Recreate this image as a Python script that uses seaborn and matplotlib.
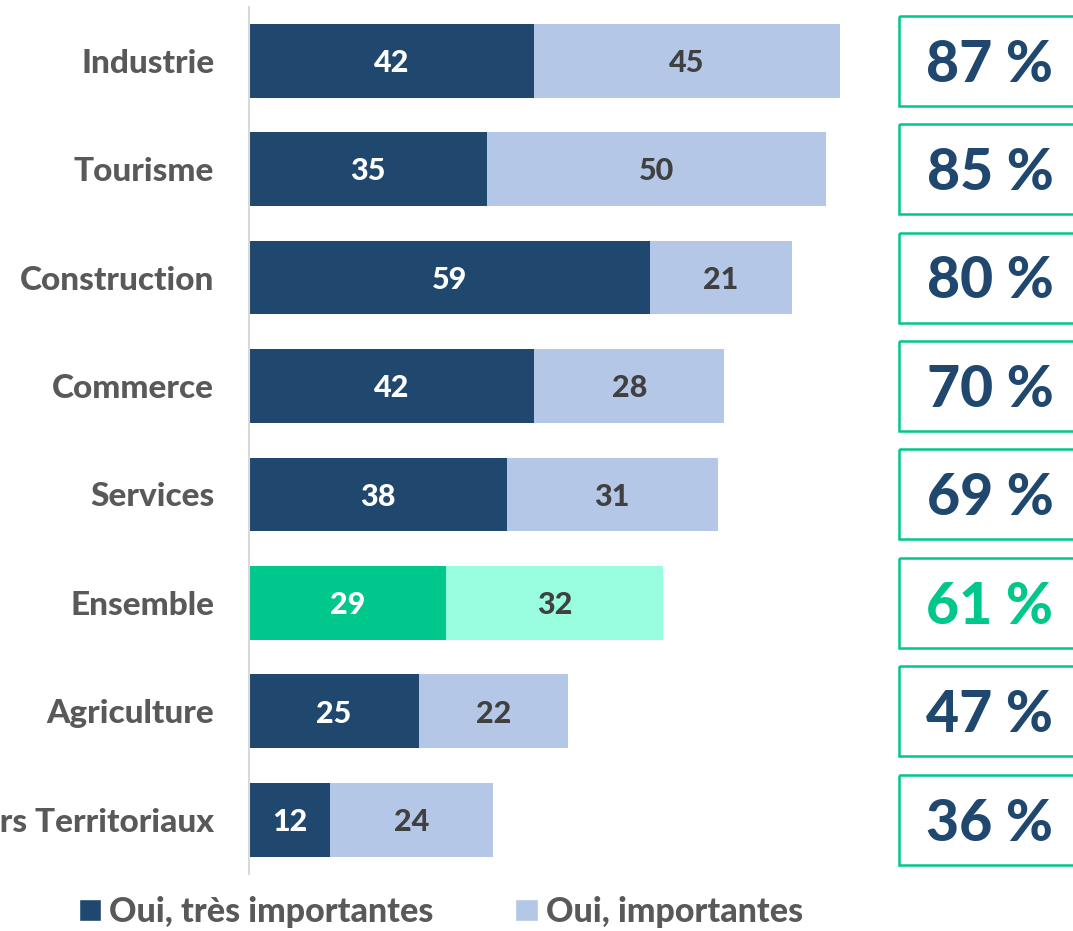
import pandas as pd
import seaborn as sns
import matplotlib.pyplot as plt
from matplotlib.patches import Rectangle, Patch
from matplotlib.transforms import blended_transform_factory

categories = ["Industrie", "Tourisme", "Construction", "Commerce", "Services",
              "Ensemble", "Agriculture", "Acteurs Territoriaux"]
tres_importantes = [42, 35, 59, 42, 38, 29, 25, 12]
importantes = [45, 50, 21, 28, 31, 32, 22, 24]
totals = [87, 85, 80, 70, 69, 61, 47, 36]
highlight = "Ensemble"

NAVY = "#20476E"
LIGHT = "#B4C7E7"
GREEN = "#00C78C"
MINT = "#99FDE0"
GREY = "#595959"
TXT_DARK = "#404040"
W = 900

sns.set_style("white")
plt.rcParams["font.family"] = ["Lato", "DejaVu Sans"]
plt.rcParams["font.weight"] = W

df = pd.DataFrame({"cat": categories, "a": tres_importantes, "b": importantes})
df["total"] = df["a"] + df["b"]

fig = plt.figure(figsize=(10.73, 9.31), dpi=100)
ax = fig.add_axes([249 / 1073, 1 - 874 / 931, 1 - 249 / 1073, (874 - 6.5) / 931])

pal_light = {c: (MINT if c == highlight else LIGHT) for c in categories}
pal_dark = {c: (GREEN if c == highlight else NAVY) for c in categories}

sns.barplot(data=df, y="cat", x="total", hue="cat", palette=pal_light, order=categories,
            hue_order=categories, width=0.68, legend=False, saturation=1, ax=ax)
sns.barplot(data=df, y="cat", x="a", hue="cat", palette=pal_dark, order=categories,
            hue_order=categories, width=0.68, legend=False, saturation=1, ax=ax)
for p in ax.patches:
    p.set_linewidth(0)

# segment labels
for i, cat in enumerate(categories):
    a = tres_importantes[i]
    b = importantes[i]
    ax.text(a / 2, i + 0.02, str(a), ha="center", va="center", color="white",
            fontsize=22, fontweight=W)
    ax.text(a + b / 2, i + 0.02, str(b), ha="center", va="center", color=TXT_DARK,
            fontsize=22, fontweight=W)

ax.set_xlim(0, 824 / 6.79)
ax.set_ylim(7.5, -0.5)
ax.set_xlabel("")
ax.set_ylabel("")
ax.set_xticks([])
ax.tick_params(axis="y", length=0, pad=25)
ax.set_yticks(range(len(categories)))
ax.set_yticklabels(categories, fontsize=24, fontweight=W, color=GREY)
for s in ["top", "right", "bottom"]:
    ax.spines[s].set_visible(False)
ax.spines["left"].set_color("#D9D9D9")
ax.spines["left"].set_linewidth(1.5)

# total boxes on the right
trans = blended_transform_factory(ax.transAxes, ax.transData)
box_x = (899 - 249) / 824
txt_x = (990 - 249) / 824
for i, (cat, t) in enumerate(zip(categories, totals)):
    ax.add_patch(Rectangle((box_x, i - 0.415), 0.4, 0.83, transform=trans,
                           fill=False, edgecolor=GREEN, linewidth=1.8, clip_on=False))
    ax.text(txt_x, i + 0.04, f"{t} %", transform=trans, ha="center", va="center",
            fontsize=41, fontweight=W,
            color=GREEN if cat == highlight else NAVY)

handles = [Patch(facecolor=NAVY, label="Oui, très importantes"),
           Patch(facecolor=LIGHT, label="Oui, importantes")]
leg = fig.legend(handles=handles, loc="center", bbox_to_anchor=(441 / 1073, 1 - 912 / 931),
                 ncol=2, frameon=False, fontsize=24.5, handlelength=0.65, handleheight=0.65,
                 handletextpad=0.25, columnspacing=2.4)
for t in leg.get_texts():
    t.set_color(GREY)
    t.set_fontweight(W)

fig.savefig("out.png", dpi=100)
